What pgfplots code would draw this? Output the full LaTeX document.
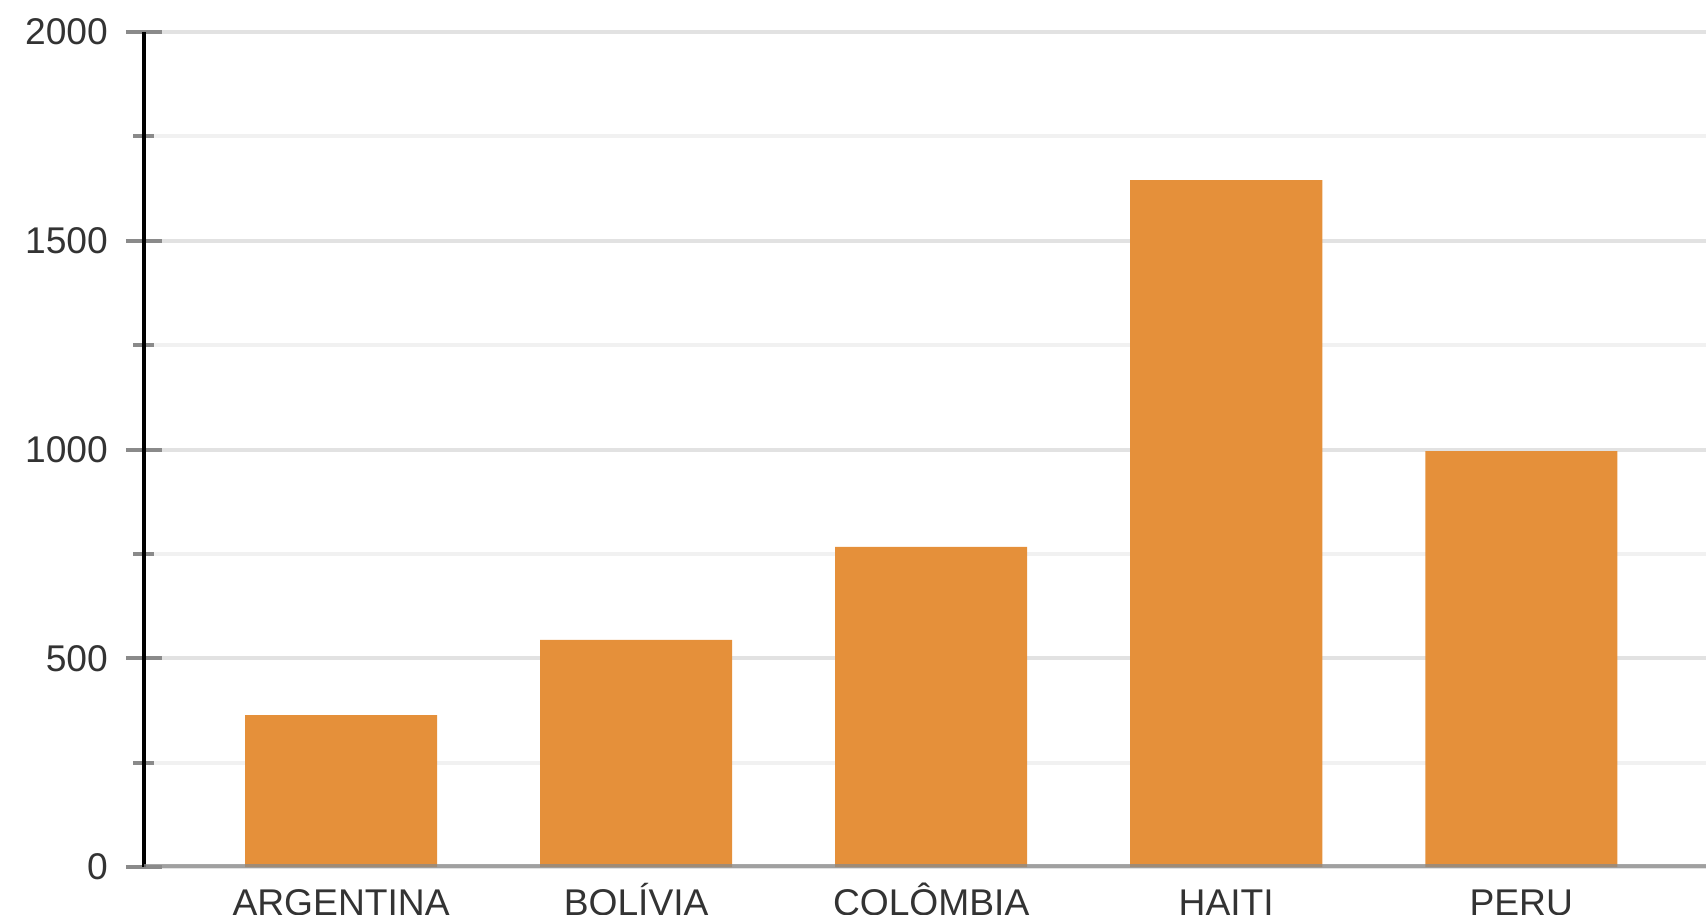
\documentclass[border=0pt]{standalone}
\usepackage{pgfplots}
\pgfplotsset{compat=1.18}
\usepackage{fontspec}
\setmainfont{Liberation Sans}
\definecolor{barorange}{HTML}{E5903A}
\definecolor{majgrid}{HTML}{E2E2E2}
\definecolor{mingrid}{HTML}{F1F1F1}
\definecolor{tickgray}{HTML}{8A8A8A}
\begin{document}
\begin{tikzpicture}
\begin{axis}[
  scale only axis,
  width=390.5pt, height=208.75pt,
  ybar, bar width=0.651,
  xmin=-0.668, xmax=4.626,
  ymin=0, ymax=2000,
  xtick=data,
  xticklabels={ARGENTINA,BOLÍVIA,COLÔMBIA,HAITI,PERU},
  ytick={0,500,1000,1500,2000},
  minor y tick num=1,
  axis x line*=bottom, axis y line*=left,
  x axis line style={draw=none},
  y axis line style={black, line width=0.8pt, -},
  ymajorgrids, yminorgrids,
  major grid style={majgrid, line width=1pt},
  minor grid style={mingrid, line width=1pt},
  x tick style={draw=none},
  y tick style={tickgray, line width=1pt},
  tick align=center,
  major tick length=9pt, minor tick length=5.25pt,
  tick label style={font=\fontsize{9.3}{10}\selectfont, text=black!80},
  yticklabel style={xshift=-1pt},
  xticklabel style={anchor=base, yshift=-7.7pt},
  /pgf/number format/assume math mode=true,
  /pgf/number format/1000 sep={},
]
\addplot[fill=barorange, draw=none] coordinates {
  (0,364) (1,544) (2,767) (3,1645) (4,996)
};
\draw[tickgray, opacity=0.75, line width=1.4pt] (rel axis cs:0,0) -- (rel axis cs:1,0);
\end{axis}
\pgfresetboundingbox
\useasboundingbox (-36pt,-11.75pt) rectangle (390.5pt,216.75pt);
\end{tikzpicture}
\end{document}
